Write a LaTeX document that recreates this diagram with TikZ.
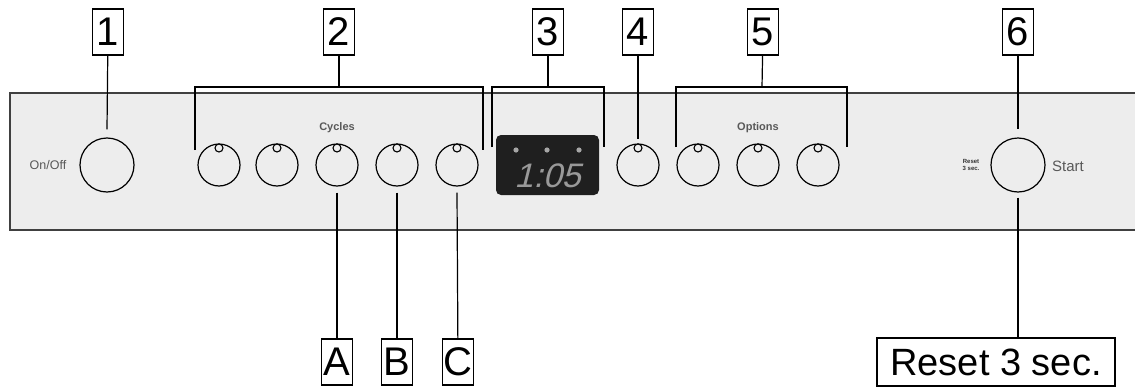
\documentclass[tikz,border=0pt]{standalone}
\usepackage{fontspec}
\setmainfont{Liberation Sans}
\newfontfamily\lcdfont[FakeSlant=0.25]{Liberation Sans}
\tikzset{
  tag/.style={draw, line width=1.3pt, fill=white, inner sep=0pt, minimum width=31pt, minimum height=46pt, font=\fontsize{40}{40}\selectfont},
  knob/.style={draw, circle, line width=1.2pt, minimum size=42pt, inner sep=0pt},
  bigknob/.style={knob, minimum size=54pt},
  panellabel/.style={text=black!65, inner sep=0pt},
  lead/.style={line width=1.2pt}
}
\begin{document}
\begin{tikzpicture}[x=1pt,y=-1pt]
    \useasboundingbox (0,0) rectangle (1135,388);
    % panel
    \fill[black!7] (10,93) rectangle (1135,230);
    \draw[line width=1.3pt, black!75] (1135,93) -- (10,93) -- (10,230) -- (1135,230);

    % knobs
    \node[bigknob] (onoff) at (107,165) {};
    \foreach \k/\x in {c1/219,c2/277,c3/337,c4/397,c5/457,k4/638,o1/698,o2/758,o3/818} {
        \node[knob] (\k) at (\x,165) {};
        \draw[line width=1.1pt, fill=black!7] (\x,148) circle(4);
    }
    \node[bigknob] (start) at (1018,165) {};

    % display
    \node[fill=black!88, rounded corners=5pt, minimum width=103pt, minimum height=60pt] (lcd) at (547.5,165) {};
    \foreach \x in {516,547,579} \fill[black!35] (\x,150) circle(2.6);
    \node[text=black!40, font=\lcdfont\fontsize{34}{34}\selectfont] at (547.5,176) {1:05};

    % panel texts
    \node[panellabel, font=\fontsize{12.5}{12.5}\selectfont] at (48,165) {On/Off};
    \node[panellabel, font=\bfseries\fontsize{11}{11}\selectfont] at (337,128) {Cycles};
    \node[panellabel, font=\bfseries\fontsize{11}{11}\selectfont] at (758,128) {Options};
    \node[panellabel, font=\fontsize{15}{15}\selectfont] at (1068,166) {Start};
    \node[panellabel, text=black!80, align=center, font=\bfseries\fontsize{6}{6.5}\selectfont] at (971,165) {Reset\\3 sec.};

    % brackets
    \coordinate (b2) at (339,87);
    \coordinate (b3) at (548,87);
    \coordinate (b5) at (762,87);
    \draw[lead] (195,150) -- (195,87) -- (483,87) -- (483,150);
    \draw[lead] (492,147) -- (492,87) -- (604,87) -- (604,147);
    \draw[lead] (676,147) -- (676,87) -- (847,87) -- (847,147);

    % top tags
    \node[tag] (t1) at (108,32) {1};
    \node[tag] (t2) at (339,32) {2};
    \node[tag] (t3) at (548,32) {3};
    \node[tag] (t4) at (638,32) {4};
    \node[tag] (t5) at (763,32) {5};
    \node[tag] (t6) at (1018,32) {6};
    \draw[lead] (t1) -- ([yshift=8pt]onoff.north);
    \draw[lead] (t2) -- (b2);
    \draw[lead] (t3) -- (b3);
    \draw[lead] (t4) -- ([yshift=4pt]k4.north);
    \draw[lead] (t5) -- (b5);
    \draw[lead] (t6) -- ([yshift=8pt]start.north);

    % bottom tags
    \node[tag] (ta) at (337,362) {A};
    \node[tag] (tb) at (397,362) {B};
    \node[tag] (tc) at (458,362) {C};
    \node[tag, minimum width=238pt, minimum height=48pt, font=\fontsize{38}{38}\selectfont] (reset) at (996,362) {Reset 3 sec.};
    \draw[lead] ([yshift=-6pt]c3.south) -- (ta);
    \draw[lead] ([yshift=-6pt]c4.south) -- (tb);
    \draw[lead] ([yshift=-6pt]c5.south) -- (tc);
    \draw[lead] ([yshift=-5pt]start.south) -- (reset.north -| start);
\end{tikzpicture}
\end{document}
